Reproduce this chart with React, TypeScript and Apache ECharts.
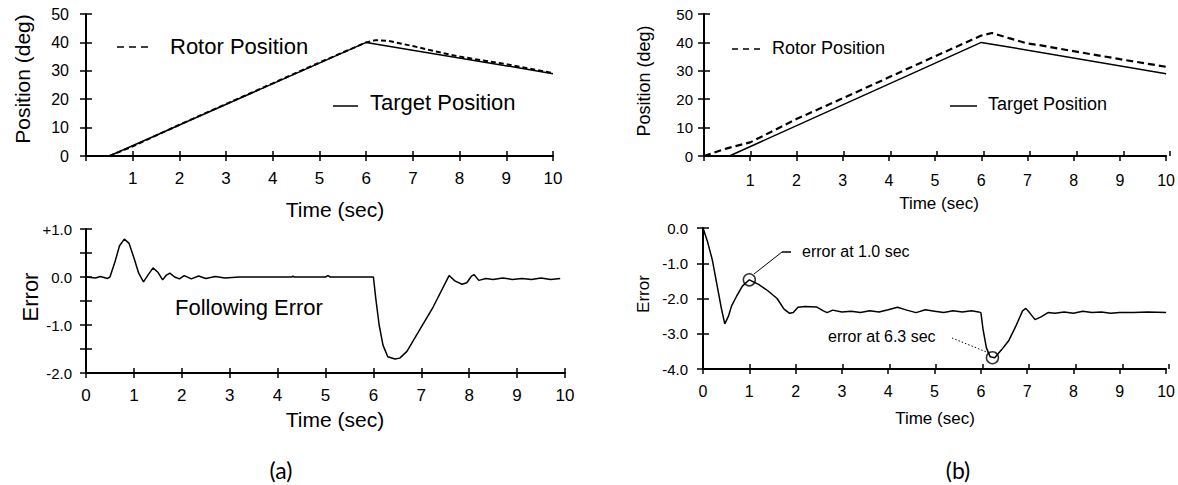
import React, { useEffect, useRef } from "react";
import * as echarts from "echarts";

// ---------- data ----------
const targetA: [number, number][] = [[0.5, 0], [6.0, 40], [10.0, 29]];
const rotorA: [number, number][] = [
  [0.5, 0], [1, 3.4], [2, 11.0], [3, 18.3], [4, 25.6], [5, 32.9], [6, 40.0],
  [6.2, 40.8], [6.45, 40.6], [7, 38.7], [7.6, 36.4], [8, 35.0], [9, 32.3], [10, 29.2],
];
const errorA: [number, number][] = [
  [0, 0], [0.2, -0.02], [0.3, 0.01], [0.45, -0.03], [0.5, 0], [0.6, 0.3], [0.7, 0.65],
  [0.8, 0.79], [0.9, 0.7], [1.0, 0.4], [1.1, 0.08], [1.2, -0.1], [1.3, 0.05], [1.4, 0.19],
  [1.5, 0.1], [1.6, -0.06], [1.68, 0.04], [1.75, 0.08], [1.85, 0.0], [1.95, -0.04],
  [2.05, 0.03], [2.2, -0.04], [2.35, 0.02], [2.5, -0.03], [2.7, 0.01], [2.9, -0.02],
  [3.2, 0.0], [4.3, 0.0], [4.32, 0.02], [4.34, 0.0], [5.0, 0.0], [5.05, 0.03], [5.1, 0.0],
  [5.4, 0.0], [6.0, 0.0], [6.05, -0.45], [6.12, -1.0], [6.2, -1.42], [6.3, -1.66],
  [6.45, -1.71], [6.55, -1.69], [6.7, -1.55], [6.9, -1.21], [7.25, -0.62], [7.58, 0.03],
  [7.7, -0.08], [7.85, -0.15], [7.95, -0.12], [8.05, 0.02], [8.1, 0.05], [8.2, -0.07],
  [8.35, -0.03], [8.5, -0.05], [8.7, -0.02], [8.9, -0.05], [9.1, -0.03], [9.3, -0.05],
  [9.5, -0.02], [9.7, -0.05], [9.9, -0.03],
];

const targetB: [number, number][] = [[0.55, 0], [6.0, 40], [10.0, 29]];
const rotorB: [number, number][] = [
  [0, 0], [0.5, 2.7], [1, 4.8], [2, 13.0], [3, 20.3], [4, 27.7], [5, 35.1], [6, 42.4],
  [6.23, 43.3], [6.6, 41.5], [7, 39.6], [7.2, 39.2], [8, 36.9], [9, 34.1], [10, 31.4],
];
const errorB: [number, number][] = [
  [0, 0], [0.1, -0.4], [0.2, -0.9], [0.3, -1.6], [0.4, -2.3], [0.47, -2.72], [0.55, -2.5],
  [0.62, -2.2], [0.72, -1.95], [0.85, -1.65], [1.0, -1.47], [1.2, -1.6], [1.4, -1.78],
  [1.6, -2.0], [1.75, -2.3], [1.87, -2.42], [1.95, -2.4], [2.05, -2.25], [2.2, -2.23],
  [2.45, -2.24], [2.6, -2.35], [2.68, -2.4], [2.8, -2.33], [3.0, -2.38], [3.2, -2.36],
  [3.4, -2.4], [3.6, -2.35], [3.8, -2.38], [4.0, -2.32], [4.2, -2.25], [4.4, -2.33],
  [4.6, -2.4], [4.8, -2.32], [5.0, -2.36], [5.2, -2.4], [5.4, -2.35], [5.6, -2.38],
  [5.8, -2.35], [5.95, -2.38], [6.0, -2.4], [6.05, -2.9], [6.12, -3.4], [6.2, -3.65],
  [6.3, -3.68], [6.45, -3.45], [6.6, -3.2], [6.75, -2.8], [6.9, -2.35], [6.97, -2.28],
  [7.05, -2.4], [7.17, -2.6], [7.3, -2.52], [7.45, -2.4], [7.6, -2.42], [7.8, -2.38],
  [8.0, -2.42], [8.2, -2.36], [8.4, -2.4], [8.6, -2.38], [8.8, -2.42], [9.0, -2.4],
  [9.3, -2.4], [9.6, -2.38], [10.0, -2.4],
];
const markedErrorsB: [number, number][] = [[1.0, -1.47], [6.25, -3.68]];

const legendNames = ["Rotor Position", "Target Position"];
const annotationTexts = ["error at 1.0 sec", "error at 6.3 sec"];
const axisTitles = { time: "Time (sec)", position: "Position (deg)", error: "Error" };
const captions = ["(a)", "(b)"];
const followingErrorLabel = "Following Error";

const FONT = "Liberation Sans, Arial, sans-serif";

export default function App() {
  const ref = useRef<HTMLDivElement>(null);

  useEffect(() => {
    document.body.style.margin = "0";
    if (!ref.current) return;
    const chart = echarts.init(ref.current, null, { renderer: "svg" });

    const grids = [
      { left: 86, top: 14, width: 467, height: 142 },   // a top
      { left: 86, top: 229, width: 479, height: 144 },  // a bottom
      { left: 704, top: 14, width: 466, height: 142 },  // b top
      { left: 703, top: 228, width: 466, height: 141 }, // b bottom
    ];
    const allGrids = [...grids, ...grids].map((g) => ({ ...g, containLabel: false }));

    const isInt = (v: number) => Math.abs(v - Math.round(v)) < 1e-9;

    const yCfg = [
      { min: 0, max: 50, interval: 10, fmt: (v: number) => String(v), fs: 16, margin: 17 },
      {
        min: -2, max: 1, interval: 0.5,
        fmt: (v: number) => (!isInt(v) ? "" : v === 1 ? "+1.0" : v.toFixed(1)),
        fs: 15, margin: 14,
      },
      { min: 0, max: 50, interval: 10, fmt: (v: number) => String(v), fs: 15, margin: 11 },
      { min: -4, max: 0, interval: 1, fmt: (v: number) => (v === 0 ? "0.0" : v.toFixed(1)), fs: 15, margin: 15 },
    ];
    const xCfg = [
      { showZero: false, fs: 17, margin: 14 },
      { showZero: true, fs: 17, margin: 14 },
      { showZero: false, fs: 16, margin: 16 },
      { showZero: true, fs: 16, margin: 14 },
    ];

    const xAxes: any[] = [];
    const yAxes: any[] = [];
    for (let i = 0; i < 4; i++) {
      const xc = xCfg[i];
      const yc = yCfg[i];
      xAxes.push({
        type: "value", gridIndex: i, min: 0, max: 10, interval: 1,
        axisLine: { show: true, onZero: false, lineStyle: { color: "#000", width: 2 } },
        axisTick: { show: true, length: 5, lineStyle: { color: "#000", width: 1.5 } },
        axisLabel: {
          color: "#000", fontFamily: FONT, fontSize: xc.fs, margin: xc.margin,
          formatter: (v: number) => (v === 0 && !xc.showZero ? "" : String(v)),
        },
        splitLine: { show: false },
      });
      yAxes.push({
        type: "value", gridIndex: i, min: yc.min, max: yc.max, interval: yc.interval,
        axisLine: { show: true, onZero: false, lineStyle: { color: "#000", width: 2 } },
        axisTick: { show: true, length: 6, lineStyle: { color: "#000", width: 1.5 } },
        axisLabel: { color: "#000", fontFamily: FONT, fontSize: yc.fs, margin: yc.margin, formatter: yc.fmt },
        splitLine: { show: false },
      });
    }
    // overlay axes: inward half of the crossing ticks
    for (let i = 0; i < 4; i++) {
      const yc = yCfg[i];
      xAxes.push({
        type: "value", gridIndex: 4 + i, min: 0, max: 10, interval: 1,
        axisLine: { show: false, onZero: false },
        axisTick: { show: true, inside: true, length: 5, lineStyle: { color: "#000", width: 1.5 } },
        axisLabel: { show: false }, splitLine: { show: false },
      });
      yAxes.push({
        type: "value", gridIndex: 4 + i, min: yc.min, max: yc.max, interval: yc.interval,
        axisLine: { show: false, onZero: false },
        axisTick: { show: true, inside: true, length: 6, lineStyle: { color: "#000", width: 1.5 } },
        axisLabel: { show: false }, splitLine: { show: false },
      });
    }

    const lineSeries = (idx: number, data: [number, number][], dashed: boolean, width: number, dash?: number[]) => ({
      type: "line", xAxisIndex: idx, yAxisIndex: idx, data, showSymbol: false, symbol: "none",
      lineStyle: { color: "#000", width, type: dashed ? dash || [6, 4] : "solid" },
      silent: true,
    });

    const series: any[] = [
      lineSeries(0, targetA, false, 1.5),
      lineSeries(0, rotorA, true, 2, [5, 3]),
      lineSeries(1, errorA, false, 1.5),
      lineSeries(2, targetB, false, 1.5),
      lineSeries(2, rotorB, true, 2.2, [7, 4]),
      lineSeries(3, errorB, false, 1.5),
      {
        type: "scatter", xAxisIndex: 3, yAxisIndex: 3, data: markedErrorsB,
        symbol: "circle", symbolSize: 12,
        itemStyle: { color: "rgba(0,0,0,0)", borderColor: "#000", borderWidth: 1.5 },
        silent: true,
      },
    ];

    const txt = (text: string, x: number, y: number, size: number, opts: any = {}) => ({
      type: "text", x, y, rotation: opts.rotation || 0,
      style: {
        text, fill: "#000", fontSize: size, fontFamily: opts.family || FONT,
        align: opts.align || "left", verticalAlign: "middle",
      },
      silent: true,
    });
    const ln = (x1: number, y1: number, x2: number, y2: number, w: number, dash?: number[]) => ({
      type: "line", shape: { x1, y1, x2, y2 },
      style: { stroke: "#000", lineWidth: w, lineDash: dash || null },
      silent: true,
    });

    const graphic: any[] = [
      // chart (a) top
      ln(117, 47, 148, 47, 1.5, [7, 5]),
      txt(legendNames[0], 170, 46, 22),
      ln(333, 106, 358, 106, 1.5),
      txt(legendNames[1], 370, 102, 22),
      txt(axisTitles.time, 335, 209, 21, { align: "center" }),
      txt(axisTitles.position, 22, 79, 21, { align: "center", rotation: Math.PI / 2 }),
      // chart (a) bottom
      txt(followingErrorLabel, 175, 307, 22),
      txt(axisTitles.time, 335, 419, 21, { align: "center" }),
      txt(axisTitles.error, 30, 297, 22, { align: "center", rotation: Math.PI / 2 }),
      // chart (b) top
      ln(732, 49, 760, 49, 1.5, [6, 5]),
      txt(legendNames[0], 772, 48, 18),
      ln(950, 106, 977, 106, 1.5),
      txt(legendNames[1], 988, 104, 18),
      txt(axisTitles.time, 939, 203, 17, { align: "center" }),
      txt(axisTitles.position, 644, 81, 18, { align: "center", rotation: Math.PI / 2 }),
      // chart (b) bottom
      txt(annotationTexts[0], 802, 251, 16),
      ln(754, 274, 782, 252, 1),
      ln(782, 252, 791, 252, 1.5),
      txt(annotationTexts[1], 828, 336, 16),
      ln(952, 338, 989, 353, 1, [1.5, 2]),
      txt(axisTitles.time, 935, 418, 17, { align: "center" }),
      txt(axisTitles.error, 643, 294, 17, { align: "center", rotation: Math.PI / 2 }),
      // captions
      txt(captions[0], 281, 470, 23, { align: "center", family: "Lato, Open Sans, sans-serif" }),
      txt(captions[1], 958, 470, 23, { align: "center", family: "Lato, Open Sans, sans-serif" }),
    ];

    chart.setOption({
      animation: false,
      backgroundColor: "#fff",
      grid: allGrids,
      xAxis: xAxes,
      yAxis: yAxes,
      series,
      graphic,
    });

    return () => chart.dispose();
  }, []);

  return <div ref={ref} style={{ width: 1178, height: 485, background: "#fff" }} />;
}
